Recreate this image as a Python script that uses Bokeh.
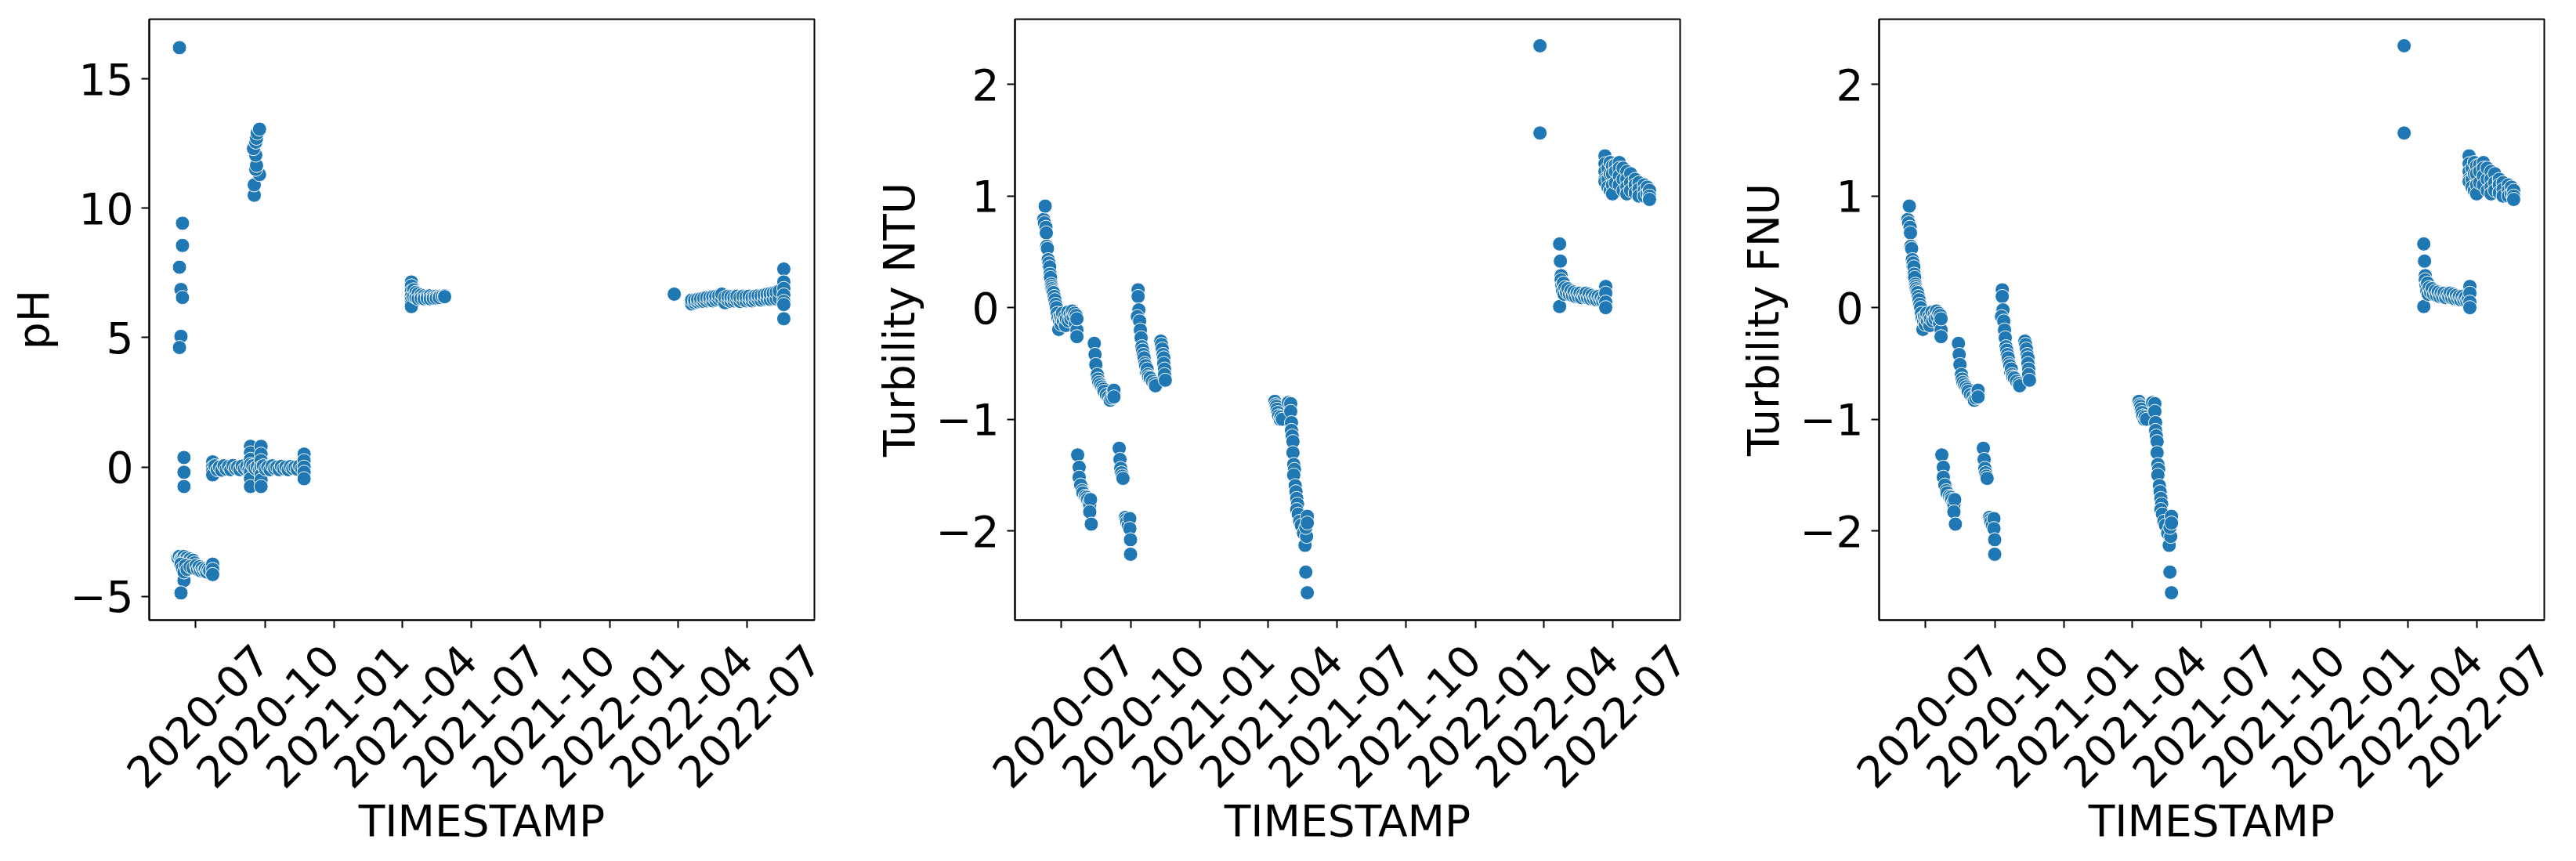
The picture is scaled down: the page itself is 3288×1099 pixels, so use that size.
import math
from datetime import datetime
import pandas as pd
from bokeh.plotting import figure
from bokeh.models import Range1d, FixedTicker, LinearAxis
from bokeh.layouts import row
from bokeh.embed import file_html
from bokeh.resources import INLINE

# ---------------- data ----------------
tick_dates = ["2020-07-01", "2020-10-01", "2021-01-01", "2021-04-01", "2021-07-01",
              "2021-10-01", "2022-01-01", "2022-04-01", "2022-07-01"]
tick_labels = ["2020-07", "2020-10", "2021-01", "2021-04", "2021-07",
               "2021-10", "2022-01", "2022-04", "2022-07"]

ph_yticks = [-5, 0, 5, 10, 15]
turb_yticks = [-2, -1, 0, 1, 2]

# pH
ph_outliers = [("2020-06-10", 16.2), ("2020-06-14", 9.42), ("2020-06-14", 8.56), ("2020-06-10", 7.72),
               ("2020-06-12", 6.86), ("2020-06-14", 6.55), ("2020-06-12", 5.05), ("2020-06-10", 4.62),
               ("2020-06-16", 0.37), ("2020-06-16", -0.2), ("2020-06-16", -0.75), ("2020-06-16", -4.38),
               ("2020-06-12", -4.86)]
ph_low = [("2020-06-08", -3.5), ("2020-06-10", -3.45), ("2020-06-12", -3.55), ("2020-06-14", -3.5),
          ("2020-06-16", -3.45), ("2020-06-18", -3.55), ("2020-06-20", -3.5), ("2020-06-22", -3.6),
          ("2020-06-24", -3.55), ("2020-06-26", -3.65), ("2020-06-28", -3.6), ("2020-06-30", -3.7),
          ("2020-06-12", -3.75), ("2020-06-14", -3.9), ("2020-06-16", -4.05), ("2020-06-18", -3.8),
          ("2020-06-20", -3.95), ("2020-06-24", -3.85), ("2020-06-28", -3.9), ("2020-07-02", -3.8),
          ("2020-07-04", -3.95), ("2020-07-06", -3.85), ("2020-07-08", -4.0), ("2020-07-10", -3.9),
          ("2020-07-12", -4.0), ("2020-07-14", -3.95), ("2020-07-16", -4.05), ("2020-07-18", -3.95),
          ("2020-07-20", -4.0), ("2020-07-24", -3.75), ("2020-07-24", -3.95), ("2020-07-24", -4.15)]
ph_zero = [("2020-07-24", 0.2), ("2020-07-24", 0.0), ("2020-07-24", -0.15), ("2020-07-24", -0.3),
           ("2020-07-27", 0.05), ("2020-07-30", -0.1), ("2020-08-02", 0.0), ("2020-08-05", -0.12),
           ("2020-08-08", 0.05), ("2020-08-11", -0.08), ("2020-08-14", 0.02), ("2020-08-17", -0.1),
           ("2020-08-20", 0.06), ("2020-08-23", -0.05), ("2020-08-26", 0.0), ("2020-08-29", -0.1),
           ("2020-09-01", 0.04), ("2020-09-04", -0.06), ("2020-09-07", 0.02), ("2020-09-10", -0.1),
           ("2020-09-12", 0.8), ("2020-09-12", 0.55), ("2020-09-12", 0.3), ("2020-09-12", 0.1),
           ("2020-09-12", -0.2), ("2020-09-12", -0.45), ("2020-09-12", -0.75),
           ("2020-09-15", 0.05), ("2020-09-18", -0.05), ("2020-09-21", 0.0), ("2020-09-24", -0.1),
           ("2020-09-26", 0.8), ("2020-09-26", 0.5), ("2020-09-26", 0.25), ("2020-09-26", 0.0),
           ("2020-09-26", -0.3), ("2020-09-26", -0.5), ("2020-09-26", -0.75),
           ("2020-09-29", 0.05), ("2020-10-02", -0.08), ("2020-10-05", 0.0), ("2020-10-08", -0.1),
           ("2020-10-11", 0.05), ("2020-10-14", -0.05), ("2020-10-17", 0.0), ("2020-10-20", -0.1),
           ("2020-10-23", 0.03), ("2020-10-26", -0.06), ("2020-10-29", 0.0), ("2020-11-01", -0.1),
           ("2020-11-04", 0.02), ("2020-11-07", -0.05), ("2020-11-10", 0.0), ("2020-11-13", -0.08),
           ("2020-11-16", 0.04), ("2020-11-19", -0.06),
           ("2020-11-22", 0.5), ("2020-11-22", 0.25), ("2020-11-22", 0.0), ("2020-11-22", -0.2),
           ("2020-11-22", -0.45)]
ph_high = [("2020-09-17", 10.5), ("2020-09-17", 10.9), ("2020-09-24", 11.3), ("2020-09-19", 11.5),
           ("2020-09-20", 11.65), ("2020-09-19", 12.05), ("2020-09-16", 12.3), ("2020-09-19", 12.55),
           ("2020-09-20", 12.7), ("2020-09-21", 12.9), ("2020-09-24", 13.05)]
ph_2021 = [("2021-04-13", 7.15), ("2021-04-13", 7.0), ("2021-04-13", 6.8), ("2021-04-13", 6.6),
           ("2021-04-13", 6.45), ("2021-04-13", 6.3), ("2021-04-13", 6.2), ("2021-04-16", 6.85),
           ("2021-04-16", 6.6), ("2021-04-19", 6.75), ("2021-04-19", 6.55), ("2021-04-22", 6.7),
           ("2021-04-22", 6.5), ("2021-04-26", 6.65), ("2021-04-26", 6.52), ("2021-04-30", 6.62),
           ("2021-04-30", 6.5), ("2021-05-04", 6.6), ("2021-05-04", 6.52), ("2021-05-08", 6.62),
           ("2021-05-08", 6.5), ("2021-05-12", 6.6), ("2021-05-12", 6.52), ("2021-05-16", 6.6),
           ("2021-05-16", 6.53), ("2021-05-20", 6.6), ("2021-05-20", 6.55), ("2021-05-24", 6.6),
           ("2021-05-27", 6.62), ("2021-05-27", 6.58)]
ph_2022 = [("2022-03-27", 6.68),
           ("2022-04-19", 6.3), ("2022-04-19", 6.45), ("2022-04-23", 6.35), ("2022-04-23", 6.45),
           ("2022-04-27", 6.38), ("2022-04-27", 6.48), ("2022-05-01", 6.4), ("2022-05-01", 6.5),
           ("2022-05-05", 6.4), ("2022-05-05", 6.52), ("2022-05-09", 6.42), ("2022-05-09", 6.55),
           ("2022-05-13", 6.45), ("2022-05-13", 6.55), ("2022-05-17", 6.42), ("2022-05-17", 6.58),
           ("2022-05-21", 6.45), ("2022-05-21", 6.6), ("2022-05-25", 6.48), ("2022-05-25", 6.62),
           ("2022-05-29", 6.5), ("2022-05-29", 6.68), ("2022-06-02", 6.35), ("2022-06-02", 6.55),
           ("2022-06-06", 6.45), ("2022-06-06", 6.6), ("2022-06-10", 6.4), ("2022-06-10", 6.58),
           ("2022-06-14", 6.42), ("2022-06-14", 6.55), ("2022-06-18", 6.45), ("2022-06-18", 6.6),
           ("2022-06-22", 6.4), ("2022-06-22", 6.55), ("2022-06-26", 6.45), ("2022-06-26", 6.6),
           ("2022-06-30", 6.42), ("2022-06-30", 6.58), ("2022-07-04", 6.45), ("2022-07-04", 6.6),
           ("2022-07-08", 6.42), ("2022-07-08", 6.55), ("2022-07-12", 6.45), ("2022-07-12", 6.6),
           ("2022-07-16", 6.48), ("2022-07-16", 6.62), ("2022-07-20", 6.45), ("2022-07-20", 6.62),
           ("2022-07-24", 6.48), ("2022-07-24", 6.65), ("2022-07-28", 6.5), ("2022-07-28", 6.68),
           ("2022-08-01", 6.48), ("2022-08-01", 6.7), ("2022-08-05", 6.5), ("2022-08-05", 6.72),
           ("2022-08-09", 6.5), ("2022-08-09", 6.75), ("2022-08-13", 6.52), ("2022-08-13", 6.8),
           ("2022-08-19", 7.65), ("2022-08-19", 7.15), ("2022-08-19", 6.9), ("2022-08-19", 6.65),
           ("2022-08-19", 6.4), ("2022-08-19", 6.28), ("2022-08-19", 5.73)]

# Turbidity NTU
ntu_2020_jun = [("2020-06-08", 0.79), ("2020-06-09", 0.76), ("2020-06-10", 0.91), ("2020-06-11", 0.72),
                ("2020-06-11 12:00", 0.67), ("2020-06-12", 0.55), ("2020-06-13", 0.53), ("2020-06-14", 0.43),
                ("2020-06-14 12:00", 0.38), ("2020-06-15", 0.40), ("2020-06-16", 0.365), ("2020-06-16 12:00", 0.3),
                ("2020-06-17", 0.27), ("2020-06-18", 0.21), ("2020-06-18 12:00", 0.19), ("2020-06-19", 0.17),
                ("2020-06-20", 0.15), ("2020-06-21", 0.135), ("2020-06-22", 0.10), ("2020-06-23", 0.07),
                ("2020-06-24", 0.03), ("2020-06-25", 0.0), ("2020-06-26", -0.05), ("2020-06-27", -0.094),
                ("2020-06-28", -0.195)]
ntu_2020_jul = [("2020-06-29", -0.12), ("2020-06-30", -0.08), ("2020-07-01", -0.15), ("2020-07-02", -0.1),
                ("2020-07-03", -0.05), ("2020-07-04", -0.12), ("2020-07-06", -0.08), ("2020-07-07", -0.16),
                ("2020-07-08", -0.1), ("2020-07-10", -0.04), ("2020-07-11", -0.12), ("2020-07-13", -0.06),
                ("2020-07-14", -0.1), ("2020-07-16", -0.03), ("2020-07-17", -0.08), ("2020-07-19", -0.05),
                ("2020-07-20", -0.14), ("2020-07-21", -0.07), ("2020-07-22", -0.2), ("2020-07-22", -0.26),
                ("2020-07-22", -0.1)]
ntu_2020_aug_low = [("2020-07-23", -1.32), ("2020-07-25", -1.43), ("2020-07-25", -1.52), ("2020-07-27", -1.59),
                    ("2020-07-29", -1.64), ("2020-07-30", -1.66), ("2020-08-02", -1.69), ("2020-08-04", -1.7),
                    ("2020-08-05", -1.72), ("2020-08-07", -1.75), ("2020-08-08", -1.77), ("2020-08-09", -1.72),
                    ("2020-08-08", -1.83), ("2020-08-10", -1.94)]
ntu_2020_aug = [("2020-08-14", -0.32), ("2020-08-15", -0.42), ("2020-08-16", -0.51), ("2020-08-18", -0.6),
                ("2020-08-19", -0.64), ("2020-08-20", -0.67), ("2020-08-22", -0.69), ("2020-08-24", -0.71),
                ("2020-08-26", -0.73), ("2020-08-27", -0.75), ("2020-08-30", -0.78), ("2020-09-02", -0.8),
                ("2020-09-04", -0.83), ("2020-09-06", -0.81), ("2020-09-08", -0.76), ("2020-09-09", -0.74),
                ("2020-09-09", -0.8)]
ntu_2020_sep_low = [("2020-09-16", -1.26), ("2020-09-17", -1.36), ("2020-09-18", -1.44), ("2020-09-19", -1.48),
                    ("2020-09-20", -1.51), ("2020-09-21", -1.53),
                    ("2020-09-24", -1.88), ("2020-09-25", -1.9), ("2020-09-26", -1.92), ("2020-09-28", -1.95),
                    ("2020-09-30", -1.89), ("2020-09-30", -1.98), ("2020-10-01", -2.08), ("2020-10-01", -2.21)]
ntu_2020_oct = [("2020-10-11", 0.16), ("2020-10-11", 0.10), ("2020-10-12", -0.02), ("2020-10-10", -0.08),
                ("2020-10-13", -0.12), ("2020-10-14", -0.2), ("2020-10-15", -0.27), ("2020-10-16", -0.35),
                ("2020-10-17", -0.38), ("2020-10-18", -0.42), ("2020-10-19", -0.45), ("2020-10-20", -0.5),
                ("2020-10-21", -0.52), ("2020-10-22", -0.575), ("2020-10-23", -0.55), ("2020-10-24", -0.6),
                ("2020-10-25", -0.62), ("2020-10-27", -0.63), ("2020-10-30", -0.66), ("2020-11-02", -0.68),
                ("2020-11-03", -0.7),
                ("2020-11-10", -0.3), ("2020-11-11", -0.33), ("2020-11-12", -0.37), ("2020-11-13", -0.42),
                ("2020-11-14", -0.45), ("2020-11-14", -0.5), ("2020-11-15", -0.55), ("2020-11-15", -0.6),
                ("2020-11-16", -0.65)]
ntu_2021 = [("2021-04-10", -0.84), ("2021-04-11", -0.87), ("2021-04-12", -0.885), ("2021-04-13", -0.91),
            ("2021-04-14", -0.94), ("2021-04-15", -0.97), ("2021-04-17", -1.0), ("2021-04-18", -0.98),
            ("2021-04-20", -1.0), ("2021-04-28", -0.85), ("2021-05-01", -0.86), ("2021-05-01", -0.93),
            ("2021-05-02", -1.03), ("2021-05-02", -1.1), ("2021-05-03", -1.15), ("2021-05-04", -1.2),
            ("2021-05-04", -1.3), ("2021-05-05", -1.405), ("2021-05-06", -1.45), ("2021-05-05", -1.5),
            ("2021-05-07", -1.595), ("2021-05-08", -1.65), ("2021-05-09", -1.71), ("2021-05-10", -1.76),
            ("2021-05-09", -1.81), ("2021-05-11", -1.85), ("2021-05-13", -1.915), ("2021-05-15", -1.95),
            ("2021-05-18", -2.02), ("2021-05-20", -2.13), ("2021-05-22", -2.05), ("2021-05-21", -1.97),
            ("2021-05-23", -1.87), ("2021-05-23", -1.93), ("2021-05-21", -2.37), ("2021-05-23", -2.555)]
ntu_2022_mar = [("2022-03-27", 2.347), ("2022-03-27", 1.565)]
ntu_2022_spring = [("2022-04-22", 0.571), ("2022-04-23", 0.417), ("2022-04-24", 0.287), ("2022-04-24", 0.25),
                   ("2022-04-22", 0.01), ("2022-04-25", 0.2), ("2022-04-26", 0.15), ("2022-04-27", 0.22),
                   ("2022-04-28", 0.12), ("2022-04-29", 0.18), ("2022-05-01", 0.14), ("2022-05-03", 0.17),
                   ("2022-05-05", 0.12), ("2022-05-07", 0.15), ("2022-05-09", 0.11), ("2022-05-11", 0.14),
                   ("2022-05-13", 0.1), ("2022-05-15", 0.13), ("2022-05-17", 0.1), ("2022-05-19", 0.13),
                   ("2022-05-21", 0.09), ("2022-05-23", 0.12), ("2022-05-25", 0.1), ("2022-05-27", 0.13),
                   ("2022-05-29", 0.09), ("2022-05-31", 0.12), ("2022-06-02", 0.08), ("2022-06-04", 0.11),
                   ("2022-06-06", 0.08), ("2022-06-08", 0.1), ("2022-06-10", 0.07), ("2022-06-12", 0.1),
                   ("2022-06-14", 0.07), ("2022-06-16", 0.09), ("2022-06-18", 0.06), ("2022-06-20", 0.08),
                   ("2022-06-22", 0.19), ("2022-06-22", 0.13), ("2022-06-22", 0.05), ("2022-06-22", 0.0)]
ntu_2022_summer = [("2022-06-21", 1.36), ("2022-06-21", 1.29), ("2022-06-21", 1.22), ("2022-06-21", 1.15),
                   ("2022-06-21", 1.13), ("2022-06-25", 1.25), ("2022-06-25", 1.15), ("2022-06-25", 1.08),
                   ("2022-06-28", 1.3), ("2022-06-28", 1.2), ("2022-06-28", 1.05), ("2022-07-01", 1.27),
                   ("2022-07-01", 1.2), ("2022-07-01", 1.1), ("2022-07-01", 1.02), ("2022-07-05", 1.28),
                   ("2022-07-05", 1.22), ("2022-07-05", 1.12), ("2022-07-10", 1.3), ("2022-07-10", 1.25),
                   ("2022-07-10", 1.18), ("2022-07-10", 1.1), ("2022-07-15", 1.25), ("2022-07-15", 1.15),
                   ("2022-07-15", 1.05), ("2022-07-20", 1.22), ("2022-07-20", 1.15), ("2022-07-20", 1.08),
                   ("2022-07-20", 1.02), ("2022-07-25", 1.2), ("2022-07-25", 1.12), ("2022-07-25", 1.05),
                   ("2022-07-31", 1.15), ("2022-07-31", 1.1), ("2022-07-31", 1.03), ("2022-08-05", 1.12),
                   ("2022-08-05", 1.06), ("2022-08-05", 1.0), ("2022-08-12", 1.1), ("2022-08-12", 1.05),
                   ("2022-08-12", 1.0), ("2022-08-16", 1.08), ("2022-08-16", 1.02), ("2022-08-19", 1.05),
                   ("2022-08-19", 1.0), ("2022-08-19", 0.97)]

# Turbidity FNU reads identically to NTU in the picture
fnu_groups = [ntu_2020_jun, ntu_2020_jul, ntu_2020_aug_low, ntu_2020_aug, ntu_2020_sep_low,
              ntu_2020_oct, ntu_2021, ntu_2022_mar, ntu_2022_spring, ntu_2022_summer]
ntu_groups = list(fnu_groups)
ph_groups = [ph_outliers, ph_low, ph_zero, ph_high, ph_2021, ph_2022]

# ---------------- styling ----------------
FONT = "DejaVu Sans"
FS = "55px"
BLUE = "#1f77b4"
H = 1083
X0 = datetime(2020, 5, 1)
X1 = datetime(2022, 9, 28, 12)
LABEL_SHIFT_DAYS = 88
EPOCH = datetime(1970, 1, 1)


def to_ms(d):
    return int((pd.Timestamp(d).to_pydatetime() - EPOCH).total_seconds() * 1000)


def flatten(groups):
    xs, ys = [], []
    for g in groups:
        for d, v in g:
            xs.append(pd.Timestamp(d))
            ys.append(v)
    return xs, ys


def make_panel(groups, ylabel, yticks, yrange, width, bl, br):
    xs, ys = flatten(groups)
    p = figure(width=width, height=H, x_axis_type="datetime",
               x_range=Range1d(X0, X1), y_range=Range1d(*yrange),
               output_backend="svg", toolbar_location=None,
               min_border_left=bl, min_border_right=br, min_border_top=24, min_border_bottom=0)
    p.xgrid.visible = False
    p.ygrid.visible = False
    p.outline_line_color = "black"
    p.outline_line_width = 2
    p.background_fill_color = "white"
    p.border_fill_color = "white"
    p.scatter(x=xs, y=ys, size=18, fill_color=BLUE, line_color="white", line_width=1)

    yax = p.yaxis[0]
    yax.ticker = FixedTicker(ticks=yticks)
    yax.major_label_overrides = {t: ("\u2212%d" % -t if t < 0 else "%d" % t) for t in yticks}
    yax.axis_label = ylabel
    yax.major_label_text_font = FONT
    yax.major_label_text_font_size = FS
    yax.major_label_text_color = "black"
    yax.axis_label_text_font = FONT
    yax.axis_label_text_font_size = FS
    yax.axis_label_text_font_style = "normal"
    yax.axis_label_text_color = "black"
    yax.axis_label_standoff = 11
    yax.major_label_standoff = 10
    yax.major_tick_out = 10
    yax.major_tick_in = 0
    yax.major_tick_line_width = 2
    yax.axis_line_width = 2
    yax.minor_tick_line_color = None

    # tick marks at the true dates (labels drawn by the axis below)
    tick_ms = [to_ms(d) for d in tick_dates]
    xax = p.xaxis[0]
    xax.ticker = FixedTicker(ticks=tick_ms)
    xax.major_label_text_color = None
    xax.major_label_standoff = 0
    xax.major_tick_out = 10
    xax.major_tick_in = 0
    xax.major_tick_line_width = 2
    xax.axis_line_width = 2
    xax.minor_tick_line_color = None

    # rotated labels, centred under their ticks like the original
    shift = LABEL_SHIFT_DAYS * 86400000
    shifted = [t + shift for t in tick_ms]
    lab = LinearAxis(ticker=FixedTicker(ticks=shifted),
                     major_label_overrides={s: l for s, l in zip(shifted, tick_labels)},
                     major_label_orientation=math.pi / 4,
                     axis_line_color=None, major_tick_line_color=None,
                     minor_tick_line_color=None, major_tick_out=0, major_tick_in=0,
                     major_label_standoff=31,
                     major_label_text_font=FONT, major_label_text_font_size=FS,
                     major_label_text_color="black",
                     axis_label="TIMESTAMP", axis_label_text_font=FONT,
                     axis_label_text_font_size=FS, axis_label_text_font_style="normal",
                     axis_label_text_color="black", axis_label_standoff=-10)
    p.add_layout(lab, "below")
    return p


p1 = make_panel(ph_groups, "pH", ph_yticks, (-5.91, 17.3), 1102, 190, 63)
p2 = make_panel(ntu_groups, "Turbility NTU", turb_yticks, (-2.80, 2.585), 1104, 193, 62)
p3 = make_panel(fnu_groups, "Turbility FNU", turb_yticks, (-2.80, 2.585), 1066, 192, 25)

layout = row(p1, p2, p3)
open("out.html", "w").write(file_html(layout, INLINE))
